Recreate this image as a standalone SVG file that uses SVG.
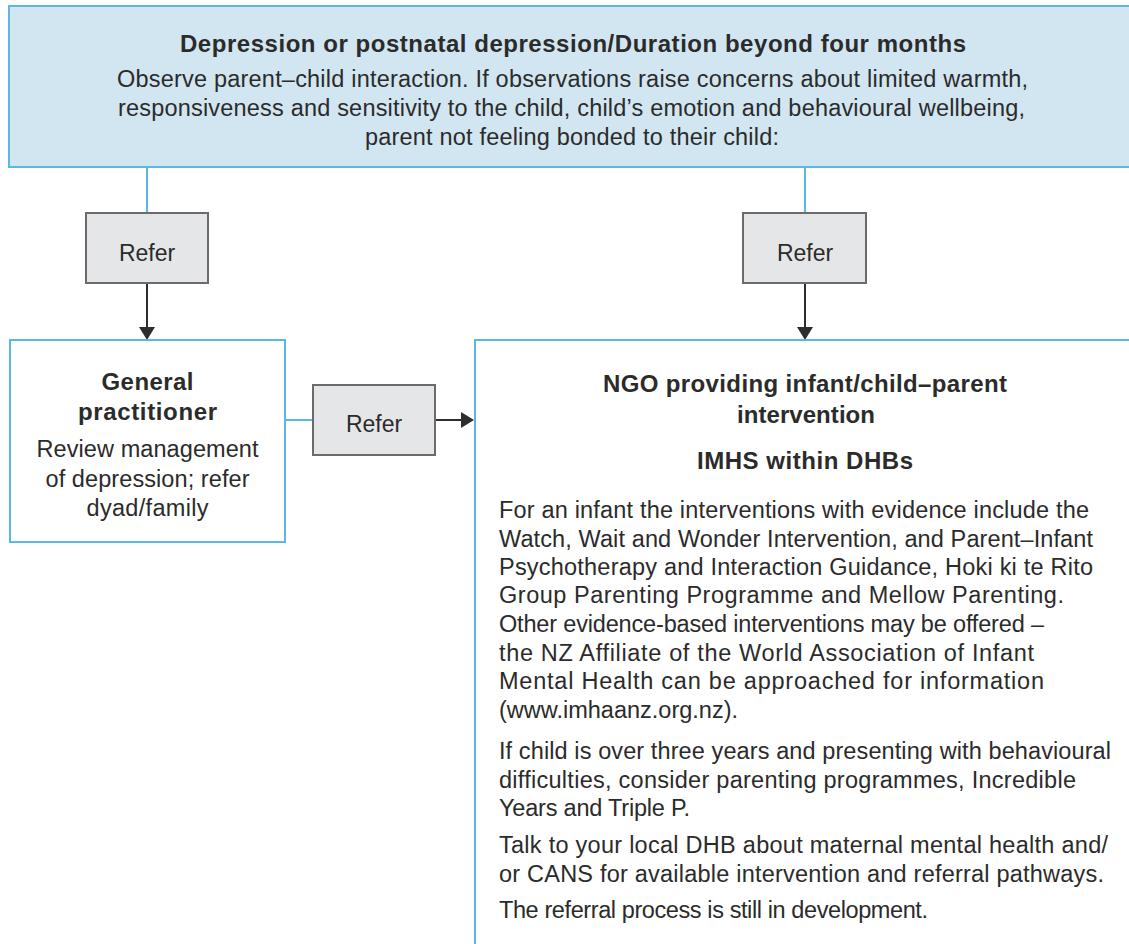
<svg xmlns="http://www.w3.org/2000/svg" width="1129" height="944" viewBox="0 0 1129 944">
  <style>
    .blue { fill: none; stroke: #5ab8e2; stroke-width: 2; }
    .bluebox { fill: #ffffff; stroke: #5ab8e2; stroke-width: 2; }
    .topbox { fill: #d2e6f1; stroke: #5ab8e2; stroke-width: 2; }
    .refer { fill: #e5e6e8; stroke: #6b6b6b; stroke-width: 2; }
    .dark { fill: none; stroke: #2d2d2d; stroke-width: 2; }
    text { font-family: "Liberation Sans", Arial, sans-serif; fill: #2b2b2b; }
    .h { font-size: 24px; font-weight: bold; text-anchor: middle; }
    .b { font-size: 23.5px; }
    .c { text-anchor: middle; }
    .r { font-size: 23px; text-anchor: middle; }
  </style>
  <defs>
    <marker id="arr" markerUnits="userSpaceOnUse" viewBox="0 0 13 16" refX="7" refY="8" markerWidth="13" markerHeight="16" orient="auto">
      <path d="M0,0 L13,8 L0,16 Z" fill="#2d2d2d"/>
    </marker>
  </defs>
  <rect width="1129" height="944" fill="#ffffff"/>

  <g id="connectors">
    <line class="blue" x1="147" y1="167" x2="147" y2="213"/>
    <line class="blue" x1="805" y1="167" x2="805" y2="213"/>
    <line class="dark" x1="147" y1="283" x2="147" y2="334" marker-end="url(#arr)"/>
    <line class="dark" x1="805" y1="283" x2="805" y2="334" marker-end="url(#arr)"/>
    <line class="blue" x1="285" y1="420" x2="313" y2="420"/>
    <line class="dark" x1="435" y1="420" x2="468" y2="420" marker-end="url(#arr)"/>
  </g>

  <g id="top">
    <rect class="topbox" x="9" y="6" width="1140" height="161"/>
    <text class="h" x="573" y="52" textLength="786">Depression or postnatal depression/Duration beyond four months</text>
    <text class="b c" x="572.5" y="87" textLength="911">Observe parent–child interaction. If observations raise concerns about limited warmth,</text>
    <text class="b c" x="571.5" y="116" textLength="907">responsiveness and sensitivity to the child, child’s emotion and behavioural wellbeing,</text>
    <text class="b c" x="572" y="145" textLength="414">parent not feeling bonded to their child:</text>
  </g>

  <g id="refer-left">
    <rect class="refer" x="86" y="213" width="122" height="70"/>
    <text class="r" x="147" y="261">Refer</text>
  </g>

  <g id="refer-right">
    <rect class="refer" x="743" y="213" width="123" height="70"/>
    <text class="r" x="805" y="261">Refer</text>
  </g>

  <g id="gp">
    <rect class="bluebox" x="10" y="340" width="275" height="202"/>
    <text class="h" x="147.5" y="390" textLength="92">General</text>
    <text class="h" x="147.5" y="420" textLength="139">practitioner</text>
    <text class="b c" x="147.5" y="457" textLength="222">Review management</text>
    <text class="b c" x="147.5" y="487" textLength="204">of depression; refer</text>
    <text class="b c" x="147.5" y="516" textLength="122">dyad/family</text>
  </g>

  <g id="refer-middle">
    <rect class="refer" x="313" y="385" width="122" height="70"/>
    <text class="r" x="374" y="432">Refer</text>
  </g>

  <g id="ngo">
    <rect class="bluebox" x="475" y="340" width="680" height="640"/>
    <text class="h" x="805" y="392" textLength="404">NGO providing infant/child–parent</text>
    <text class="h" x="806" y="423" textLength="138">intervention</text>
    <text class="h" x="805" y="469" textLength="216">IMHS within DHBs</text>
    <text class="b" x="499" y="518" textLength="590">For an infant the interventions with evidence include the</text>
    <text class="b" x="499" y="547" textLength="594">Watch, Wait and Wonder Intervention, and Parent–Infant</text>
    <text class="b" x="499" y="575" textLength="594">Psychotherapy and Interaction Guidance, Hoki ki te Rito</text>
    <text class="b" x="499" y="603" textLength="565">Group Parenting Programme and Mellow Parenting.</text>
    <text class="b" x="499" y="632" textLength="545">Other evidence-based interventions may be offered –</text>
    <text class="b" x="499" y="661" textLength="535">the NZ Affiliate of the World Association of Infant</text>
    <text class="b" x="499" y="689" textLength="545">Mental Health can be approached for information</text>
    <text class="b" x="499" y="718">(www.imhaanz.org.nz).</text>
    <text class="b" x="499" y="759" textLength="612">If child is over three years and presenting with behavioural</text>
    <text class="b" x="499" y="788" textLength="577">difficulties, consider parenting programmes, Incredible</text>
    <text class="b" x="499" y="816" textLength="191">Years and Triple P.</text>
    <text class="b" x="499" y="853" textLength="609">Talk to your local DHB about maternal mental health and/</text>
    <text class="b" x="499" y="882" textLength="605">or CANS for available intervention and referral pathways.</text>
    <text class="b" x="499" y="918" textLength="429">The referral process is still in development.</text>
  </g>
</svg>
